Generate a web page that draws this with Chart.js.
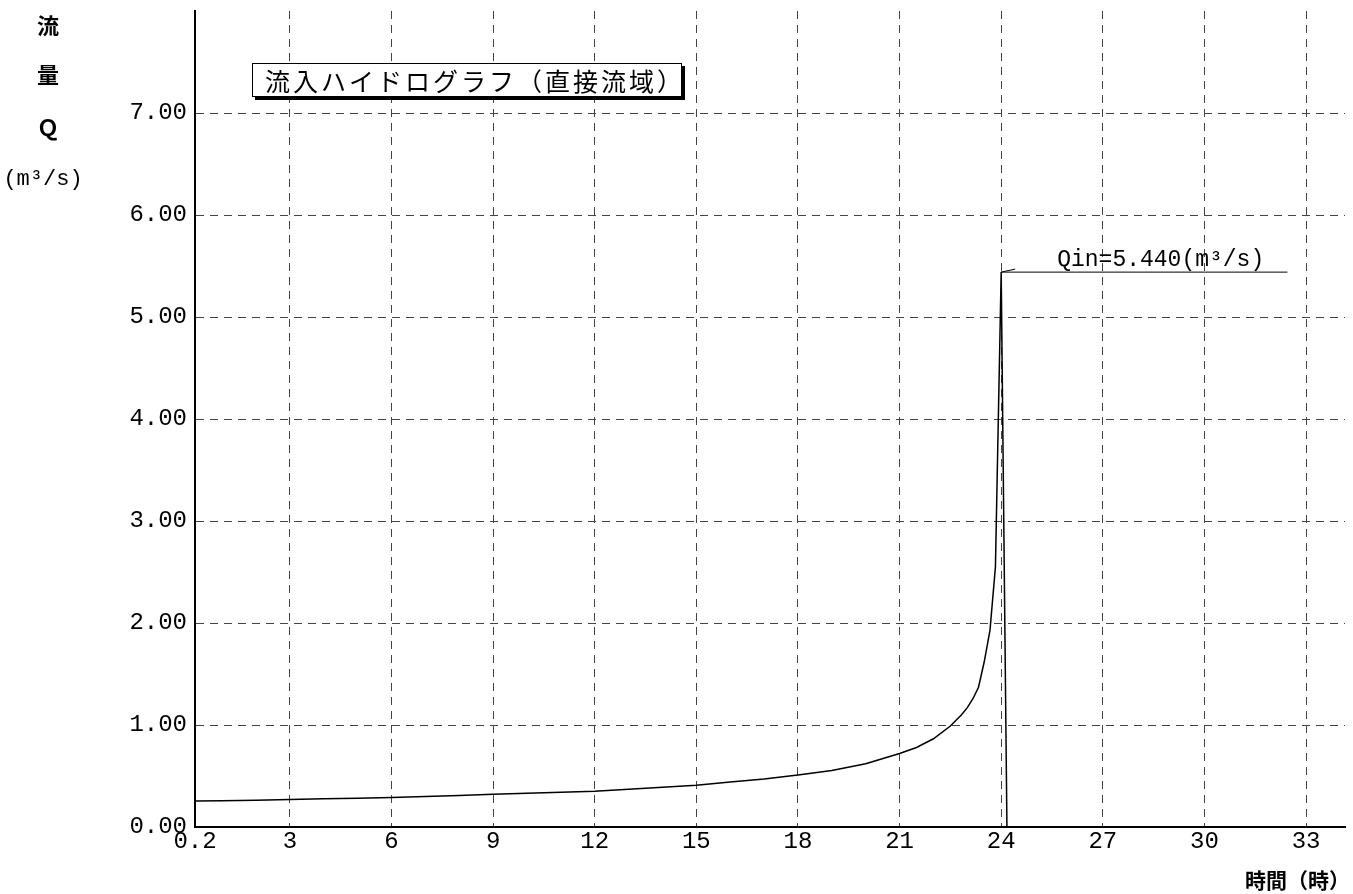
<!DOCTYPE html>
<html>
<head>
<meta charset="utf-8">
<script src="https://cdn.jsdelivr.net/npm/chart.js@4/dist/chart.umd.min.js"></script>
<style>
  html, body { margin: 0; padding: 0; background: #fff; }
  #wrap { width: 1353px; height: 894px; position: relative; }
</style>
</head>
<body>
<div id="wrap"><canvas id="c" width="1353" height="894"></canvas></div>
<script>
// Inflow hydrograph (direct catchment): time in hours, discharge in m3/s
const hours = [0.2, 1, 2, 3, 4, 5, 6, 7, 8, 9, 10, 11, 12, 13, 14, 15, 16, 17, 18, 19, 20, 21,
               21.5, 22, 22.5, 22.83, 23.0, 23.17, 23.33, 23.5, 23.67, 23.83, 24.0, 24.17];
const inflow = [0.255, 0.258, 0.263, 0.27, 0.276, 0.283, 0.29, 0.30, 0.31, 0.32, 0.33, 0.34, 0.35,
                0.37, 0.39, 0.41, 0.44, 0.47, 0.51, 0.555, 0.62, 0.72,
                0.78, 0.865, 0.99, 1.10, 1.17, 1.26, 1.37, 1.62, 1.93, 2.55, 5.44, 0];

// Peak annotation
const peakHour = 24.0;
const peakFlow = 5.44;
const peakLineEndHour = 32.45;
const peakText = 'Qin=5.440(m³/s)';

// Axis ticks
const xTickValues = [0.2, 3, 6, 9, 12, 15, 18, 21, 24, 27, 30, 33];
const xTickLabels = ['0.2', '3', '6', '9', '12', '15', '18', '21', '24', '27', '30', '33'];
const yTickValues = [0, 1, 2, 3, 4, 5, 6, 7];
const yTickLabels = ['0.00', '1.00', '2.00', '3.00', '4.00', '5.00', '6.00', '7.00'];

// Titles
const seriesTitle = '流入ハイドログラフ（直接流域）';
const yTitleLines = ['流', '量', 'Ｑ'];
const yUnit = '(m³/s)';
const xTitle = '時間（時）';

const MONO = '"Liberation Mono", "DejaVu Sans Mono", monospace';
const CJK = '"Noto Sans CJK JP", "Noto Sans", sans-serif';

const hydroPoints = hours.map((h, i) => ({ x: h, y: inflow[i] }));
const peakLinePoints = [{ x: peakHour, y: peakFlow }, { x: peakLineEndHour, y: peakFlow }];

const decorPlugin = {
  id: 'decor',
  afterDraw(chart) {
    const ctx = chart.ctx;
    const xs = chart.scales.x, ys = chart.scales.y;
    ctx.save();
    ctx.fillStyle = '#000';

    // vertical axis title, stacked characters
    ctx.textAlign = 'center';
    ctx.textBaseline = 'middle';
    ctx.font = 'bold 22px ' + CJK;
    const yTitleY = [26, 75, 128];
    yTitleLines.forEach((t, i) => ctx.fillText(t, 48, yTitleY[i]));
    ctx.font = '22px ' + MONO;
    ctx.fillText(yUnit, 43, 179);

    // horizontal axis title
    ctx.textAlign = 'right';
    ctx.font = 'bold 21px ' + CJK;
    ctx.fillText(xTitle, 1350, 880);

    // series title box with drop shadow
    const bx = 252, by = 63, bw = 430, bh = 34;
    ctx.fillStyle = '#000';
    ctx.fillRect(bx + 3, by + 3, bw, bh);
    ctx.fillStyle = '#fff';
    ctx.fillRect(bx, by, bw, bh);
    ctx.strokeStyle = '#000';
    ctx.lineWidth = 1;
    ctx.strokeRect(bx + 0.5, by + 0.5, bw - 1, bh - 1);
    ctx.fillStyle = '#000';
    ctx.textAlign = 'left';
    ctx.font = '25px ' + CJK;
    ctx.letterSpacing = '3px';
    ctx.fillText(seriesTitle, bx + 13, by + bh / 2 + 1);
    ctx.letterSpacing = '0px';

    // peak label and leader
    const px = xs.getPixelForValue(peakHour);
    const py = ys.getPixelForValue(peakFlow);
    ctx.beginPath();
    ctx.moveTo(px, py);
    ctx.lineTo(px + 14, py - 3);
    ctx.lineWidth = 1;
    ctx.strokeStyle = '#000';
    ctx.stroke();
    ctx.font = '23px ' + MONO;
    ctx.textBaseline = 'alphabetic';
    ctx.fillText(peakText, px + 56, py - 6);
    ctx.restore();
  }
};

new Chart(document.getElementById('c'), {
  type: 'line',
  data: {
    datasets: [
      {
        label: seriesTitle,
        data: hydroPoints,
        borderColor: '#000',
        borderWidth: 1.5,
        pointRadius: 0,
        tension: 0,
        fill: false
      },
      {
        label: peakText,
        data: peakLinePoints,
        borderColor: '#000',
        borderWidth: 1,
        pointRadius: 0,
        fill: false
      }
    ]
  },
  options: {
    responsive: false,
    animation: false,
    devicePixelRatio: 1,
    layout: { padding: { top: 11, right: 8, left: 0, bottom: 0 } },
    plugins: { legend: { display: false }, tooltip: { enabled: false } },
    scales: {
      x: {
        type: 'linear',
        min: 0.2,
        max: 34.15,
        afterBuildTicks: s => { s.ticks = xTickValues.map(v => ({ value: v })); },
        afterFit: s => { s.height = 67; s.paddingLeft = 0; s.paddingRight = 0; },
        ticks: {
          autoSkip: false,
          maxRotation: 0,
          padding: 0,
          color: '#000',
          font: { family: MONO, size: 24 },
          callback: (v, i) => xTickLabels[i]
        },
        grid: { color: '#444', lineWidth: 1, drawTicks: false },
        border: { display: true, color: '#000', width: 2, dash: [8, 6] }
      },
      y: {
        type: 'linear',
        min: 0,
        max: 8,
        afterBuildTicks: s => { s.ticks = yTickValues.map(v => ({ value: v })); },
        afterFit: s => { s.width = 195; s.paddingTop = 0; s.paddingBottom = 0; },
        ticks: {
          autoSkip: false,
          padding: 8,
          color: '#000',
          font: { family: MONO, size: 24 },
          callback: (v, i) => yTickLabels[i]
        },
        grid: { color: '#444', lineWidth: 1, drawTicks: false },
        border: { display: true, color: '#000', width: 2, dash: [8, 6] }
      }
    }
  },
  plugins: [decorPlugin]
});
</script>
</body>
</html>
